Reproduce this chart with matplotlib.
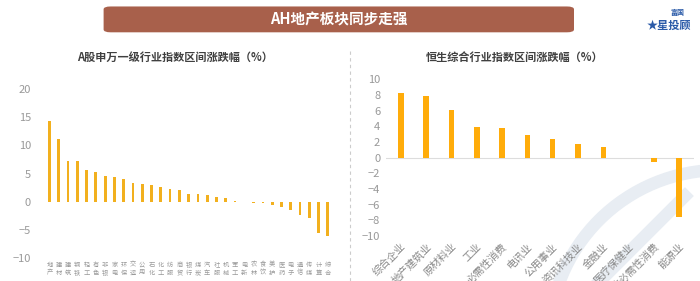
import matplotlib
matplotlib.use("Agg")
import matplotlib.pyplot as plt
from matplotlib.patches import FancyBboxPatch, Circle
from matplotlib.lines import Line2D

plt.rcParams["font.family"] = ["Noto Sans CJK SC", "DejaVu Sans"]

# A-share Shenwan level-1 industries (names guessed, labels too small to read)
a_names = ["地产", "建材", "建筑", "钢铁", "轻工", "有色", "非银", "家电", "环保", "交运",
           "公用", "石化", "化工", "纺服", "商贸", "银行", "煤炭", "汽车", "社服", "机械",
           "军工", "电新", "农林", "食饮", "美护", "医药", "电子", "通信", "传媒", "计算", "综合"]
a_values = [14.4, 11.2, 7.2, 7.2, 5.6, 5.2, 4.6, 4.4, 4.0, 3.4,
            3.1, 2.9, 2.6, 2.2, 2.1, 1.4, 1.3, 1.1, 0.9, 0.7,
            0.1, -0.1, -0.2, -0.3, -0.6, -0.9, -1.5, -2.3, -2.9, -5.6, -6.1]
a_yticks = [-10, -5, 0, 5, 10, 15, 20]

# Hang Seng Composite industries
h_names = ["综合企业", "地产建筑业", "原材料业", "工业", "必需性消费", "电讯业",
           "公用事业", "资讯科技业", "金融业", "医疗保健业", "非必需性消费", "能源业"]
h_values = [8.3, 7.9, 6.1, 3.9, 3.8, 2.9, 2.4, 1.8, 1.3, -0.1, -0.5, -7.6]
h_yticks = [-10, -8, -6, -4, -2, 0, 2, 4, 6, 8, 10]

fig = plt.figure(figsize=(7, 2.81), dpi=100)

# faint watermark arc behind everything (inches)
fig.patches.append(Circle((7.2, -0.6), 1.71, transform=fig.dpi_scale_trans,
                          fill=False, lw=9, ec="#e8edf3", zorder=-5))
fig.lines.append(Line2D([6.0, 6.85], [0.0, 0.85], transform=fig.dpi_scale_trans,
                        color="#e8edf3", lw=9, zorder=-5))

# banner
banner = FancyBboxPatch((0.148, 0.885), 0.672, 0.092, boxstyle="round,pad=0,rounding_size=0.01",
                        transform=fig.transFigure, fc="#a8604b", ec="none", zorder=1)
fig.patches.append(banner)
fig.text(0.484, 0.931, "AH地产板块同步走强", color="white", fontsize=10.5,
         fontweight="bold", ha="center", va="center")
fig.text(0.968, 0.955, "富国", color="#2a5aa8", fontsize=5, fontweight="bold",
         ha="center", va="center")
fig.text(0.955, 0.91, "★星投顾", color="#2a5aa8", fontsize=8, fontweight="bold",
         ha="center", va="center", style="italic")

# divider
fig.lines.append(Line2D([0.5, 0.5], [0.0, 0.83], transform=fig.transFigure,
                        color="#cccccc", lw=0.8, ls=(0, (3, 3))))

# left chart
ax1 = fig.add_axes([0.06, 0.082, 0.419, 0.601])
ax1.patch.set_alpha(0)
ax1.bar(range(len(a_values)), a_values, width=0.3, color="#f2b01e")
ax1.set_xlim(-0.8, len(a_values) - 0.2)
ax1.set_ylim(-10, 20)
ax1.set_yticks(a_yticks)
ax1.set_xticks(range(len(a_names)))
ax1.set_xticklabels(["\n".join(n) for n in a_names], fontsize=4.5, color="#999999",
                    linespacing=1.0)
ax1.tick_params(axis="y", labelsize=8, colors="#999999", length=0, pad=8)
ax1.tick_params(axis="x", length=0, pad=2)
for s in ax1.spines.values():
    s.set_visible(False)
fig.text(0.25, 0.797, "A股申万一级行业指数区间涨跌幅（%）", fontsize=8, fontweight="bold",
         color="#404040", ha="center", va="center")

# right chart
ax2 = fig.add_axes([0.551, 0.16, 0.441, 0.558])
ax2.patch.set_alpha(0)
ax2.bar(range(len(h_values)), h_values, width=0.22, color="#ffac0a")
ax2.axhline(0, color="#dddddd", lw=0.8, zorder=0)
ax2.set_xlim(-0.6, len(h_values) - 0.4)
ax2.set_ylim(-10, 10)
ax2.set_yticks(h_yticks)
ax2.set_xticks(range(len(h_names)))
ax2.set_xticklabels(h_names, rotation=45, ha="right", rotation_mode="anchor",
                    fontsize=7.5, color="#888888")
ax2.tick_params(axis="y", labelsize=8, colors="#999999", length=0, pad=4)
ax2.tick_params(axis="x", length=0, pad=4)
for s in ax2.spines.values():
    s.set_visible(False)
fig.text(0.735, 0.797, "恒生综合行业指数区间涨跌幅（%）", fontsize=8, fontweight="bold",
         color="#404040", ha="center", va="center")

fig.savefig("out.png", dpi=100)
